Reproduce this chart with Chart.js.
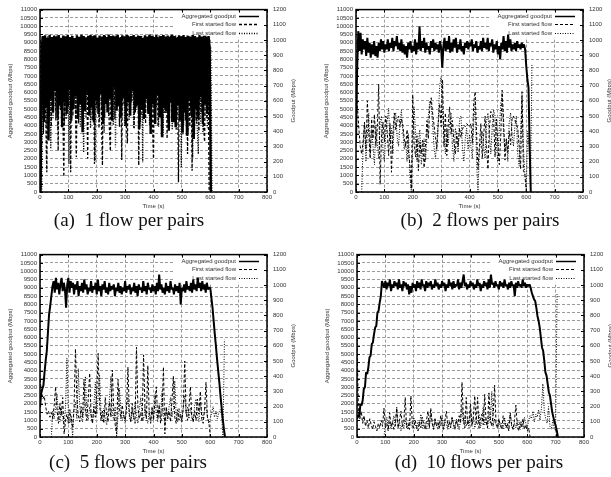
<!DOCTYPE html>
<html lang="en">
<head>
  <meta charset="UTF-8">
  <title>Goodput versus flows per pair</title>
  <script src="https://cdn.jsdelivr.net/npm/chart.js"></script>
  <style>
    body { margin: 0; background: #fff; }
    #page { position: relative; width: 611px; height: 477px; overflow: hidden; background: #fff; }
    canvas { position: absolute; }
    .caption {
      position: absolute;
      width: 200px;
      text-align: center;
      font-family: "Liberation Serif", "Times New Roman", serif;
      font-size: 19px;
      line-height: 19px;
      color: #111;
      white-space: pre;
    }
  </style>
</head>
<body>
<div id="page">
  <canvas id="chartA" width="305" height="212" style="left:0;top:0"></canvas>
  <canvas id="chartB" width="305" height="212" style="left:316px;top:0"></canvas>
  <canvas id="chartC" width="305" height="212" style="left:0;top:245px"></canvas>
  <canvas id="chartD" width="305" height="212" style="left:317px;top:245px"></canvas>
  <div class="caption" style="left:29px;top:210px">(a)  1 flow per pairs</div>
  <div class="caption" style="left:380px;top:210px">(b)  2 flows per pairs</div>
  <div class="caption" style="left:28px;top:452px">(c)  5 flows per pairs</div>
  <div class="caption" style="left:379px;top:452px">(d)  10 flows per pairs</div>
</div>

<script>
  // axes
  const xMax = 800, timeStep = 100;
  const leftMax = 11000, leftStep = 500;
  const rightMax = 1200, rightStep = 100;
  const keyLabels = ['Aggregated goodput', 'First started flow', 'Last started flow'];

  // (a) 1 flow per pairs -- values every 4 s
  const aggA = [0,
    8600, 9400, 4200, 9450, 5100, 9300, 3100, 9480, 5600, 9350,
    4800, 9420, 6100, 9380, 4500, 9460, 5200, 9300, 3900, 9440,
    5400, 9390, 4700, 9470, 6200, 9350, 4300, 9410, 5000, 9280,
    5800, 9450, 4400, 9360, 5300, 9480, 3600, 9400, 4900, 9330,
    6000, 9420, 4600, 9470, 5100, 9390, 4200, 9450, 5500, 9310,
    4700, 9440, 5900, 9380, 4100, 9460, 5300, 9350, 4800, 9490,
    5600, 9400, 4300, 9430, 6300, 9370, 4900, 9480, 5200, 9320,
    4500, 9450, 5700, 9390, 4000, 9460, 5400, 9340, 4600, 9410,
    6100, 9470, 4800, 9360, 5200, 9440, 3800, 9400, 5000, 9300,
    4400, 9450, 5600, 9380, 4700, 9490, 3500, 9420, 5300, 9350,
    4100, 9460, 5800, 9330, 4500, 9400, 3300, 9470, 5100, 9380,
    4900, 9440, 3700, 9360, 5400, 9480, 4200, 9410, 3900, 9300,
    5200, 9450, 4300, 9390, 3600, 9470, 4800, 9350, 3400, 9420,
    5500, 9380, 4600, 9460, 3200, 9400, 5000, 9330, 4400, 9450,
    5700, 9370, 4100, 9420, 5300, 9360, 4700, 9400, 8600, 0];
  const firstA = [
    1000, 450, 1020, 380, 1010, 520, 130, 1030, 560, 1000,
    430, 1020, 610, 990, 470, 1030, 270, 1010, 540, 1000,
    600, 100, 1020, 480, 1010, 560, 990, 130, 1030, 500,
    1000, 620, 230, 1020, 450, 1000, 590, 1030, 410, 1010,
    530, 990, 220, 1020, 600, 1000, 470, 1030, 185, 1010,
    550, 1000, 420, 1020, 580, 175, 1030, 490, 1000, 610,
    1020, 440, 270, 1010, 560, 990, 480, 1030, 620, 1000,
    430, 1020, 210, 1010, 570, 1000, 460, 320, 1030, 540,
    1000, 600, 1020, 420, 990, 560, 1030, 175, 1010, 500,
    1000, 590, 1020, 450, 1000, 530, 1030, 610, 990, 470,
    220, 1020, 560, 1000, 430, 1030, 580, 1010, 400, 1000,
    520, 1020, 350, 990, 600, 1030, 460, 1010, 540, 1000,
    410, 1020, 65, 1000, 500, 1030, 380, 1010, 470, 990,
    250, 1020, 430, 1000, 140, 1030, 360, 1010, 450, 990,
    400, 1020, 520, 1000, 440, 330, 1030, 480, 1000, 20,
    0];
  const lastA = [
    0, 980, 520, 1010, 440, 1000, 600, 1020, 285, 1000,
    480, 1030, 560, 990, 410, 1010, 630, 1000, 500, 1020,
    450, 990, 580, 1030, 185, 1000, 520, 1010, 600, 990,
    470, 1020, 550, 1000, 430, 1030, 610, 260, 1010, 490,
    1000, 570, 1020, 420, 990, 530, 1030, 200, 1000, 600,
    1010, 460, 1020, 540, 1000, 390, 1030, 580, 990, 500,
    1010, 620, 1000, 440, 1020, 295, 1030, 560, 1000, 480,
    990, 610, 1020, 430, 1010, 550, 1000, 470, 1030, 590,
    1000, 420, 1020, 540, 990, 600, 1010, 450, 1030, 195,
    1000, 520, 1020, 580, 990, 440, 1010, 610, 1030, 490,
    1000, 560, 1020, 430, 990, 600, 1010, 360, 1030, 520,
    1000, 470, 1020, 580, 990, 410, 1010, 550, 1030, 480,
    1000, 600, 1020, 165, 1010, 440, 990, 520, 1030, 380,
    1000, 560, 1020, 220, 990, 470, 1010, 430, 250, 1030,
    450, 1000, 390, 1020, 500, 990, 420, 1010, 940, 950, 0];

  // (b) 2 flows per pairs -- aggregate every 4 s, flows every 5 s
  const aggB = [
    3000, 7400, 9700, 8500, 9600, 8300, 9200, 8600, 9100, 8200,
    9300, 8400, 9000, 8100, 8900, 8300, 9100, 8200, 8800, 8100,
    9000, 8500, 9200, 8600, 9100, 8400, 8900, 8600, 9200, 8500,
    9000, 8700, 9300, 8500, 9100, 8800, 9400, 8600, 9000, 8500,
    9200, 8400, 8900, 8300, 8800, 8100, 9000, 8600, 9100, 8400,
    8800, 8500, 9200, 8300, 9000, 8600, 10000, 8500, 9100, 8700,
    9300, 8400, 9000, 8600, 8800, 8300, 9100, 8700, 9200, 8500,
    9000, 8600, 8900, 8400, 9100, 8700, 7500, 8800, 9300, 8500,
    9100, 8600, 9400, 8400, 9000, 8500, 9200, 8700, 9300, 8400,
    8900, 8600, 9200, 8500, 8800, 8300, 9000, 8700, 9100, 8600,
    9000, 8800, 9200, 8500, 8900, 8700, 9100, 8400, 8800, 8600,
    9100, 8500, 9300, 8700, 9000, 8600, 9300, 8500, 9000, 8800,
    9200, 8400, 8900, 8600, 9100, 8300, 8800, 8000, 9000, 8600,
    9400, 8500, 9100, 8400, 9500, 8700, 9200, 8500, 8900, 8600,
    9000, 8500, 9100, 8700, 8900, 8600, 9000, 8700, 8900, 8600,
    7600, 6800, 6300, 2800, 0];
  const firstB = [
    700, 560, 420, 300, 250, 330, 460, 280, 600, 390,
    220, 480, 350, 510, 300, 420, 710, 50, 380, 460,
    330, 500, 400, 240, 450, 130, 380, 520, 410, 470,
    500, 430, 480, 440, 350, 300, 410, 260, 180, 20,
    640, 320, 230, 370, 140, 330, 250, 340, 160, 300,
    470, 350, 560, 620, 520, 440, 360, 280, 450, 580,
    430, 740, 300, 520, 240, 450, 560, 380, 470, 330,
    250, 390, 300, 420, 360, 410, 440, 430, 450, 440,
    430, 450, 320, 590, 660, 380, 150, 300, 450, 220,
    380, 500, 300, 150, 420, 530, 510, 490, 230, 480,
    310, 180, 360, 670, 480, 210, 350, 260, 400, 310,
    480, 500, 470, 450, 420, 300, 150, 660, 140, 120,
    0];
  const lastB = [
    0, 300, 450, 200, 380, 520, 250, 410, 300, 180,
    440, 320, 220, 460, 500, 280, 200, 380, 470, 550,
    330, 420, 250, 480, 520, 360, 300, 450, 540, 400,
    280, 330, 200, 380, 100, 0, 320, 560, 380, 200,
    330, 410, 180, 260, 350, 200, 380, 500, 600, 580,
    450, 300, 220, 330, 480, 700, 760, 520, 380, 250,
    420, 310, 460, 520, 300, 200, 420, 360, 260, 480,
    500, 300, 200, 350, 420, 280, 380, 300, 220, 450,
    600, 200, 0, 280, 330, 400, 300, 220, 460, 520,
    380, 250, 420, 540, 500, 300, 200, 420, 580, 640,
    400, 280, 350, 200, 460, 520, 380, 300, 430, 500,
    250, 170, 400, 620, 300, 120, 20, 400, 300, 0,
    840];

  // (c) 5 flows per pairs
  const aggC = [
    1800, 2600, 2900, 3100, 3900, 4600, 5200, 6300, 7400, 7900, 8500,
    9100, 9400, 8700, 9600, 8900, 9300, 8600, 9200, 9600, 8800,
    9300, 8900, 7800, 9200, 9600, 8700, 9400, 9000, 9300, 8600,
    9200, 8900, 9400, 8500, 9100, 8800, 9300, 8700, 9500, 8900,
    9200, 8600, 9000, 8800, 9400, 8700, 9100, 8900, 9300, 8600,
    9500, 8800, 9100, 8500, 9200, 8900, 9400, 8700, 9000, 8600,
    9300, 8800, 9100, 8900, 9200, 8500, 9000, 8800, 9300, 8700,
    9100, 8600, 9000, 8800, 9400, 8700, 9100, 8900, 9200, 8600,
    9000, 8800, 9300, 8700, 9100, 8500, 9200, 8900, 9000, 8700,
    9400, 8800, 9100, 8600, 9300, 8900, 9000, 8700, 9200, 8800,
    9100, 8600, 9300, 8800, 9800, 8900, 9200, 8700, 9000, 8600,
    9300, 8800, 9100, 8700, 9400, 8900, 9000, 8600, 9200, 8800,
    9100, 8700, 9300, 8000, 9000, 8800, 9200, 8700, 9400, 8900,
    9100, 8800, 9300, 8700, 9500, 8900, 9200, 8800, 9600, 9000,
    9300, 8800, 9400, 8900, 9200, 8700, 9300, 8900, 9000,
    9000, 8400, 7800, 7000, 6200, 5500, 4700, 4000, 3300, 2500, 1800, 1100, 500, 0];
  const firstC = [
    380, 300, 250, 270, 200, 150, 170, 130, 160, 120,
    210, 330, 180, 90, 220, 140, 260, 20, 110, 150,
    90, 180, 120, 60, 200, 580, 250, 140, 100, 200,
    130, 380, 170, 110, 250, 420, 150, 90, 200, 130,
    300, 550, 220, 110, 170, 90, 260, 140, 100, 230,
    130, 440, 170, 80, 20, 380, 190, 120, 210, 140,
    110, 190, 460, 150, 100, 220, 130, 90, 590, 200,
    120, 160, 100, 540, 180, 120, 470, 150, 90, 190,
    110, 230, 330, 120, 200, 90, 150, 460, 20, 200,
    120, 170, 100, 240, 400, 130, 90, 180, 110, 150,
    100, 190, 500, 160, 110, 200, 330, 130, 100, 170,
    110, 250, 150, 300, 120, 90, 180, 360, 130, 100,
    0];
  const lastC = [
    0, 170, 120, 200, 280, 150, 100, 190, 130, 80,
    200, 520, 160, 90, 140, 0, 180, 230, 120, 450,
    200, 130, 100, 190, 400, 150, 110, 200, 140, 90,
    210, 360, 150, 270, 410, 160, 100, 190, 120, 80,
    170, 250, 400, 150, 110, 200, 0, 140, 320, 180,
    110, 150, 90, 200, 260, 130, 100, 180, 120, 230,
    140, 90, 180, 260, 150, 110, 200, 120, 90, 170,
    110, 200, 130, 280, 150, 100, 220, 120, 300, 140,
    90, 180, 120, 200, 260, 130, 180, 370, 140, 100,
    190, 130, 110, 200, 270, 150, 200, 120, 190, 140,
    100, 210, 250, 140, 100, 230, 160, 120, 180, 200,
    130, 90, 120, 160, 200, 130, 170, 120, 160, 180,
    140, 0, 640];

  // (d) 10 flows per pairs
  const aggD = [
    1100, 1300, 1200, 2000, 1900, 2200, 2900, 3000, 3900, 3800, 4200, 4800,
    4900, 5600, 5700, 6200, 6600, 6700, 7500, 7600, 8100, 8500, 9400, 9200,
    9000, 9400, 8900, 9300, 9100, 9500, 8800, 9200, 9000, 9400,
    9100, 9300, 8900, 9500, 9000, 9200, 8800, 9400, 9100, 9300,
    8900, 9200, 8600, 9100, 8700, 9300, 9000, 9200, 8800, 9400,
    9000, 9300, 8900, 9500, 9100, 9200, 8800, 9400, 9000, 9300,
    9100, 9400, 8900, 9200, 9000, 9500, 9100, 9300, 8900, 9200,
    9000, 9400, 9100, 9300, 8800, 9200, 9000, 9500, 9100, 9300,
    8900, 9400, 9000, 9200, 9100, 9500, 8900, 9300, 9000, 9400,
    9800, 9100, 9300, 8900, 9200, 9000, 9400, 9100, 9300, 8900,
    9200, 9000, 9500, 9100, 9300, 8800, 9200, 9000, 9400, 9100,
    9300, 8900, 9500, 9000, 9800, 9200, 9300, 9000, 9400, 9100,
    9200, 8900, 9400, 9100, 9300, 9000, 9500, 9100, 9200, 8900,
    9300, 9000, 9400, 9100, 9200, 8500, 9300, 9000, 9400, 9100,
    9200, 9000, 9500, 9100, 9300, 9000, 9200, 9100, 9200,
    9000, 8700, 8500, 8300, 8200, 7800, 7300, 7000, 6600, 6000, 5400, 5200, 4600,
    3900, 3700, 3200, 2700, 2500, 2000, 1500, 1200, 900, 700, 400, 0];
  const firstD = [
    650, 160, 120, 170, 90, 140, 70, 110, 60, 120,
    80, 50, 100, 70, 40, 90, 60, 110, 70, 190,
    60, 90, 40, 160, 70, 100, 50, 80, 190, 60,
    110, 170, 70, 100, 260, 60, 90, 50, 270, 80,
    60, 110, 70, 40, 100, 60, 130, 80, 50, 110,
    170, 60, 190, 90, 50, 120, 70, 100, 60, 140,
    80, 50, 110, 170, 70, 100, 60, 130, 80, 50,
    110, 70, 140, 90, 360, 120, 60, 260, 80, 110,
    220, 70, 130, 270, 90, 260, 60, 110, 150, 80,
    280, 100, 60, 290, 120, 70, 150, 340, 90, 60,
    120, 80, 50, 140, 100, 60, 90, 40, 160, 80,
    50, 110, 210, 70, 40, 100, 60, 120, 50, 80,
    40, 60, 0];
  const lastD = [
    0, 80, 130, 60, 100, 50, 90, 140, 70, 200,
    60, 100, 40, 90, 60, 120, 70, 50, 110, 80,
    60, 130, 90, 50, 100, 70, 150, 60, 100, 80,
    50, 110, 70, 160, 90, 60, 120, 80, 50, 100,
    70, 140, 60, 110, 80, 50, 100, 70, 130, 90,
    60, 120, 80, 50, 110, 200, 90, 140, 70, 110,
    60, 180, 90, 130, 60, 100, 80, 150, 60, 110,
    200, 80, 120, 60, 150, 90, 300, 70, 120, 80,
    60, 110, 70, 90, 50, 130, 80, 60, 100, 150,
    70, 50, 90, 60, 110, 80, 50, 100, 70, 130,
    90, 60, 110, 140, 120, 170, 100, 150, 130, 180,
    110, 190, 350, 170, 120, 90, 200, 70, 50, 110,
    60, 40, 940];

  // first sample time and sampling step (s) of each series: [agg, first, last]
  const timing = {
    A: [[2, 4], [0, 4], [6, 4]],
    B: [[0, 4], [0, 5], [20, 5]],
    C: [[0, 4], [0, 5], [40, 5]],
    D: [[0, 4], [0, 5], [95, 5]]
  };

  Chart.defaults.font.family = '"Liberation Sans", Arial, sans-serif';
  Chart.defaults.color = '#333';
  const smallFont = { size: 6 };
  const gridColor = '#9a9a9a';

  function series(t, vals) {
    return vals.map((v, i) => ({ x: t[0] + i * t[1], y: v }));
  }

  // frame, inward ticks, axis titles and the key, drawn gnuplot-style
  const decor = {
    id: 'decor',
    beforeDatasetsDraw(chart) {
      const { ctx, chartArea: a } = chart;
      ctx.save();
      ctx.fillStyle = '#fff';
      ctx.fillRect(a.left + 133, a.top + 1, a.right - a.left - 134, 27);
      ctx.font = '6px "Liberation Sans", Arial, sans-serif';
      ctx.fillStyle = '#333';
      ctx.textAlign = 'right';
      ctx.textBaseline = 'middle';
      chart.data.datasets.forEach((ds, i) => {
        const y = Math.round(a.top + 6 + i * 8.6) + 0.5;
        ctx.fillText(ds.label, a.right - 31, y);
        ctx.strokeStyle = '#000';
        ctx.lineWidth = Math.min(ds.borderWidth, 1.5);
        ctx.setLineDash(ds.borderDash);
        ctx.beginPath();
        ctx.moveTo(a.right - 28, y);
        ctx.lineTo(a.right - 8, y);
        ctx.stroke();
      });
      ctx.restore();
    },
    afterDraw(chart) {
      const { ctx, chartArea: a, scales } = chart;
      ctx.save();
      ctx.strokeStyle = '#000';
      ctx.lineWidth = 1;
      ctx.beginPath();
      for (let v = 0; v <= leftMax; v += leftStep) {
        const y = Math.round(scales.y.getPixelForValue(v)) + 0.5;
        ctx.moveTo(a.left, y); ctx.lineTo(a.left + 3, y);
      }
      for (let v = 0; v <= rightMax; v += rightStep) {
        const y = Math.round(scales.y2.getPixelForValue(v)) + 0.5;
        ctx.moveTo(a.right, y); ctx.lineTo(a.right - 3, y);
      }
      for (let v = 0; v <= xMax; v += timeStep) {
        const x = Math.round(scales.x.getPixelForValue(v)) + 0.5;
        ctx.moveTo(x, a.bottom); ctx.lineTo(x, a.bottom - 3);
        ctx.moveTo(x, a.top); ctx.lineTo(x, a.top + 3);
      }
      ctx.stroke();
      ctx.lineWidth = 1.5;
      ctx.strokeRect(a.left, a.top, a.right - a.left, a.bottom - a.top);

      ctx.font = '6px "Liberation Sans", Arial, sans-serif';
      ctx.fillStyle = '#333';
      ctx.textAlign = 'center';
      ctx.textBaseline = 'middle';
      const midY = (a.top + a.bottom) / 2;
      ctx.fillText('Time (s)', (a.left + a.right) / 2, a.bottom + 14);
      [[10, 'Aggregated goodput (Mbps)'], [a.right + 26, 'Goodput (Mbps)']].forEach(([x, text]) => {
        ctx.save();
        ctx.translate(x, midY);
        ctx.rotate(-Math.PI / 2);
        ctx.fillText(text, 0, 0);
        ctx.restore();
      });
      ctx.restore();
    }
  };

  function makeChart(id, t, agg, first, last, aggWidth, flowWidth) {
    new Chart(document.getElementById(id), {
      type: 'line',
      data: {
        datasets: [
          { label: keyLabels[0], data: series(t[0], agg), yAxisID: 'y',
            borderColor: '#000', borderWidth: aggWidth, borderDash: [] },
          { label: keyLabels[1], data: series(t[1], first), yAxisID: 'y2',
            borderColor: '#000', borderWidth: flowWidth, borderDash: [3, 2] },
          { label: keyLabels[2], data: series(t[2], last), yAxisID: 'y2',
            borderColor: '#000', borderWidth: flowWidth, borderDash: [1, 1.5] }
        ]
      },
      options: {
        responsive: false,
        animation: false,
        events: [],
        layout: { padding: { top: 9, left: 0, right: 0, bottom: 0 } },
        elements: {
          point: { radius: 0 },
          line: { tension: 0, borderJoinStyle: 'bevel', fill: false }
        },
        plugins: { legend: { display: false }, tooltip: { enabled: false } },
        scales: {
          x: {
            type: 'linear', min: 0, max: xMax,
            afterFit: s => { s.height = 20; },
            ticks: { stepSize: timeStep, autoSkip: false, maxRotation: 0, padding: 2,
                     font: smallFont, callback: v => String(v) },
            grid: { color: gridColor, drawTicks: false },
            border: { display: false, dash: [3, 2] }
          },
          y: {
            position: 'left', min: 0, max: leftMax,
            afterFit: s => { s.width = 40; },
            ticks: { stepSize: leftStep, autoSkip: false, padding: 3,
                     font: smallFont, callback: v => String(v) },
            grid: { color: gridColor, drawTicks: false },
            border: { display: false, dash: [3, 2] }
          },
          y2: {
            position: 'right', min: 0, max: rightMax,
            afterFit: s => { s.width = 38; },
            ticks: { stepSize: rightStep, autoSkip: false, padding: 6,
                     font: smallFont, callback: v => String(v) },
            grid: { display: false, drawTicks: false },
            border: { display: false }
          }
        }
      },
      plugins: [decor]
    });
  }

  makeChart('chartA', timing.A, aggA, firstA, lastA, 2.4, 1.3);
  makeChart('chartB', timing.B, aggB, firstB, lastB, 2, 1);
  makeChart('chartC', timing.C, aggC, firstC, lastC, 2, 1);
  makeChart('chartD', timing.D, aggD, firstD, lastD, 2, 1);
</script>
</body>
</html>
